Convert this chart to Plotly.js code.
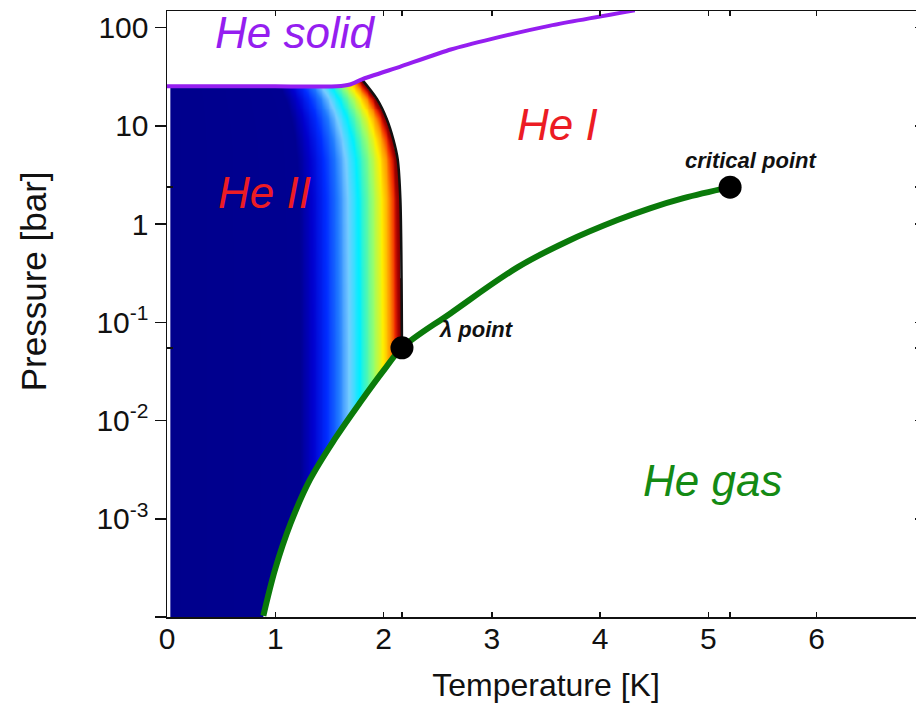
<!DOCTYPE html>
<html><head><meta charset="utf-8">
<script src="https://cdn.plot.ly/plotly-3.0.1.min.js"></script>
<style>html,body{margin:0;padding:0;overflow:hidden;background:#fff}</style>
</head><body><div id="chart" style="width:930px;height:706px"></div>
<script>
// ---- data ----
const meltT = [0, 1.0, 1.57, 1.69, 1.80, 2.15, 2.62, 3.0, 3.54, 4.32];
const meltP = [25.3, 25.3, 25.3, 26.4, 29.8, 40, 60, 77, 105, 150];
const lambdaT = [1.80, 1.94, 2.03, 2.09, 2.13, 2.155, 2.17];
const lambdaP = [29.8, 18.7, 11.7, 7.3, 4.6, 1.8, 0.055];
const vapT = [0.89, 1.00, 1.14, 1.32, 1.55, 1.78, 2.01, 2.17, 2.62, 3.24, 3.70, 4.16, 4.46, 4.77, 5.2];
const vapP = [1.03e-4, 3.1e-4, 8.9e-4, 2.5e-3, 6.5e-3, 0.0151, 0.0334, 0.055, 0.124, 0.365, 0.67, 1.10, 1.45, 1.84, 2.38];
const pointNames = ['λ point', 'critical point'];
const pointT = [2.17, 5.2];
const pointP = [0.055, 2.38];
const xTickVals = [0, 1, 2, 3, 4, 5, 6];
const xTickText = ['0', '1', '2', '3', '4', '5', '6'];
const yTickVals = [1e-4, 1e-3, 1e-2, 1e-1, 1, 10, 100];
const yTickText = ['', '10<sup>-3</sup>', '10<sup>-2</sup>', '10<sup>-1</sup>', '1', '10', '100'];
const regionNames = ['He solid', 'He I', 'He II', 'He gas'];
const regionT = [1.185, 3.61, 0.90, 5.04];
const regionP = [90, 10.4, 2.1, 0.00248];
// He II shading: colour stops as fraction of the local lambda temperature
const shadeStops = [0, 0.566, 0.62, 0.68, 0.73, 0.775, 0.82, 0.88, 0.92, 0.95, 0.972, 0.985, 1];
const shadeColors = ['rgb(0,0,140)', 'rgb(0,0,145)', 'rgb(0,0,205)', 'rgb(0,45,255)', 'rgb(30,120,255)',
  'rgb(120,205,255)', 'rgb(0,240,255)', 'rgb(150,255,110)', 'rgb(255,240,0)', 'rgb(255,150,0)',
  'rgb(240,40,0)', 'rgb(165,0,0)', 'rgb(110,0,0)'];

// ---- helpers ----
function interp(xs, ys, x) {
  if (x <= xs[0]) return ys[0];
  for (let i = 1; i < xs.length; i++) {
    if (x <= xs[i]) {
      const f = (x - xs[i - 1]) / (xs[i] - xs[i - 1]);
      return ys[i - 1] + f * (ys[i] - ys[i - 1]);
    }
  }
  return ys[ys.length - 1];
}
const vapLog = vapP.map(Math.log10);
const meltLog = meltP.map(Math.log10);
const lamLogAsc = lambdaP.map(Math.log10).slice().reverse();
const lamTAsc = lambdaT.slice().reverse();

const gridT = [];
for (let t = 0.035; t <= 2.2; t += 0.008) gridT.push(t);
const gridLog = [];
for (let lp = -4.0; lp <= 1.45; lp += 0.01) gridLog.push(lp);
const gridP = gridLog.map(v => Math.pow(10, v));
const shadeZ = gridLog.map(lp => {
  const tl = interp(lamLogAsc, lamTAsc, lp);
  return gridT.map(t => {
    if (t > tl) return null;
    if (t >= vapT[0] && lp < interp(vapT, vapLog, t)) return null;
    if (lp > interp(meltT, meltLog, t)) return null;
    return t / tl;
  });
});

const purple = '#951ef0', green = '#0a7a0a', red = '#ec1c24', greenText = '#148a14';

const traces = [
  {type: 'heatmap', x: gridT, y: gridP, z: shadeZ, zmin: 0, zmax: 1,
   colorscale: shadeStops.map((s, i) => [s, shadeColors[i]]), showscale: false, hoverinfo: 'skip'},
  {type: 'scatter', mode: 'lines', x: lambdaT, y: lambdaP, line: {color: '#111', width: 2.5, shape: 'spline', smoothing: 0.8}},
  {type: 'scatter', mode: 'lines', x: meltT, y: meltP, line: {color: purple, width: 4, shape: 'spline', smoothing: 0.5}},
  {type: 'scatter', mode: 'lines', x: vapT, y: vapP, line: {color: green, width: 6, shape: 'spline', smoothing: 1.0}},
  {type: 'scatter', mode: 'markers', x: pointT, y: pointP, yaxis: 'y2', text: pointNames,
   marker: {color: '#000', size: 23}}
];

const regionColors = [purple, red, red, greenText];
const annotations = regionNames.map((n, i) => ({
  text: '<i>' + n + '</i>', x: regionT[i], y: Math.log10(regionP[i]), xref: 'x', yref: 'y',
  showarrow: false, font: {size: 44, color: regionColors[i]}
}));
annotations.push({text: '<b><i>critical point</i></b>', x: 5.39, y: 0.65, xref: 'x', yref: 'y',
  showarrow: false, font: {size: 22, color: '#111'}});
annotations.push({text: '<b><i>λ point</i></b>', x: 2.86, y: -1.075, xref: 'x', yref: 'y',
  showarrow: false, font: {size: 22, color: '#111'}});
annotations.push({text: 'Pressure [bar]', textangle: -90, x: -0.1768, y: 0.554, xref: 'paper', yref: 'paper',
  xanchor: 'center', yanchor: 'middle', showarrow: false, font: {size: 35, color: '#111'}});

const axisCommon = {showgrid: false, zeroline: false, showline: true, linecolor: '#111', linewidth: 1.5,
  tickcolor: '#111', tickwidth: 1.5, tickfont: {size: 30, color: '#111'}};

const layout = {
  width: 930, height: 706,
  margin: {l: 167, r: 5, t: 11, b: 89},
  paper_bgcolor: '#fff', plot_bgcolor: '#fff', showlegend: false,
  font: {family: 'Liberation Sans, Arial, sans-serif', color: '#111'},
  xaxis: Object.assign({}, axisCommon, {
    range: [0, 7], tickmode: 'array', tickvals: xTickVals, ticktext: xTickText,
    ticks: 'inside', ticklen: 5, mirror: 'ticks', ticklabelstandoff: -6,
    minor: {tickmode: 'array', tickvals: pointT, ticks: 'inside', ticklen: 5, tickwidth: 1.5, tickcolor: '#111'},
    title: {text: 'Temperature [K]', font: {size: 32, color: '#111'}, standoff: 20}
  }),
  yaxis: Object.assign({}, axisCommon, {
    type: 'log', range: [-4, 2.17], tickmode: 'array', tickvals: yTickVals, ticktext: yTickText,
    ticks: 'outside', ticklen: 11,
    minor: {tickmode: 'array', tickvals: pointP, ticks: 'inside', ticklen: 6, tickwidth: 1.5, tickcolor: '#111'}
  }),
  yaxis2: Object.assign({}, axisCommon, {
    type: 'log', range: [-4, 2.17], overlaying: 'y', side: 'right', tickmode: 'array',
    tickvals: yTickVals.concat(pointP), ticks: 'inside', ticklen: 10, showticklabels: false
  }),
  annotations: annotations
};

Plotly.newPlot('chart', traces, layout, {staticPlot: true, displayModeBar: false});
</script></body></html>
